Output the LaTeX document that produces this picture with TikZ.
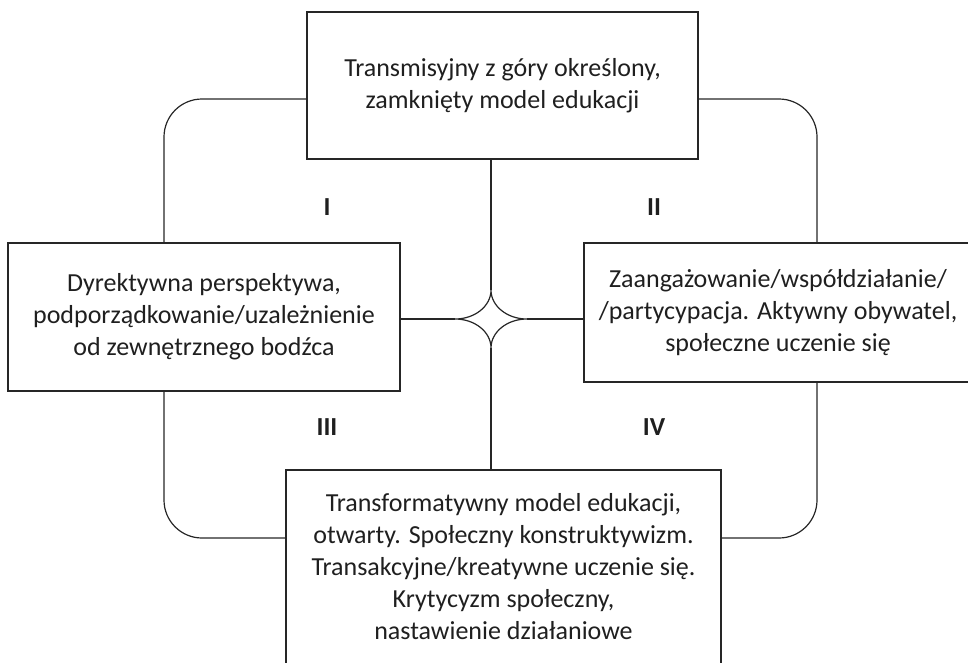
\documentclass[tikz,border=0pt]{standalone}
\usepackage{fontspec}
\setmainfont{Carlito}
\usetikzlibrary{calc}
\begin{document}
\begin{tikzpicture}[x=1pt,y=-1pt,
  box/.style={draw=black!85, line width=1.2pt, align=center, inner sep=0pt,
    font=\fontsize{26}{32}\selectfont, text=black!88},
  link/.style={draw=black!85, line width=1.2pt},
  quarter/.style={font=\fontsize{26}{26}\selectfont\bfseries, text=black!88}]
\useasboundingbox (0,0) rectangle (968,662);
\clip (0,0) rectangle (968,662);

% the four model boxes
\node[box, minimum width=391pt, minimum height=147pt] (top) at (502.5,85.5)
  {Transmisyjny z góry określony,\\zamknięty model edukacji};
\node[box, minimum width=392pt, minimum height=148pt] (left) at (204,317)
  {Dyrektywna perspektywa,\\podporządkowanie/uzależnienie\\od zewnętrznego bodźca};
\node[box, minimum width=388pt, minimum height=139pt] (right) at (778,312.5)
  {Zaangażowanie/współdziałanie/\\/partycypacja. Aktywny obywatel,\\społeczne uczenie się};
\node[box, minimum width=435pt, minimum height=194pt] (bottom) at (503.5,567)
  {Transformatywny model edukacji,\\otwarty. Społeczny konstruktywizm.\\Transakcyjne/kreatywne uczenie się.\\Krytycyzm społeczny,\\nastawienie działaniowe};

% central four-pointed star
\coordinate (hub) at (491,319);
\coordinate (sN) at ($(hub)+(0,-29)$);
\coordinate (sE) at ($(hub)+(36,0)$);
\coordinate (sS) at ($(hub)+(0,29)$);
\coordinate (sW) at ($(hub)+(-36,0)$);
\draw[link] (sN) .. controls ($(hub)+(0,-13)$) and ($(hub)+(16,0)$) .. (sE)
  .. controls ($(hub)+(16,0)$) and ($(hub)+(0,13)$) .. (sS)
  .. controls ($(hub)+(0,13)$) and ($(hub)+(-16,0)$) .. (sW)
  .. controls ($(hub)+(-16,0)$) and ($(hub)+(0,-13)$) .. cycle;

% axes through the star
\draw[link] (top.south -| hub) -- (sN);
\draw[link] (sS) -- (bottom.north -| hub);
\draw[link] (left.east |- hub) -- (sW);
\draw[link] (sE) -- (right.west |- hub);

% rounded outer connectors
\draw[link, rounded corners=38pt] ([yshift=-13.5pt]top.west) -| ([xshift=-40pt]left.north);
\draw[link, rounded corners=38pt] ([yshift=-13.5pt]top.east) -| ([xshift=39pt]right.north);
\draw[link, rounded corners=38pt] ([xshift=-40pt]left.south) |- ([yshift=29pt]bottom.west);
\draw[link, rounded corners=38pt] ([xshift=39pt]right.south) |- ([yshift=29pt]bottom.east);

% quadrant numerals
\node[quarter] (q1) at (327,207) {I};
\node[quarter] (q2) at (654,207) {II};
\node[quarter] (q3) at (327,427) {III};
\node[quarter] (q4) at (654,427) {IV};
\end{tikzpicture}
\end{document}
